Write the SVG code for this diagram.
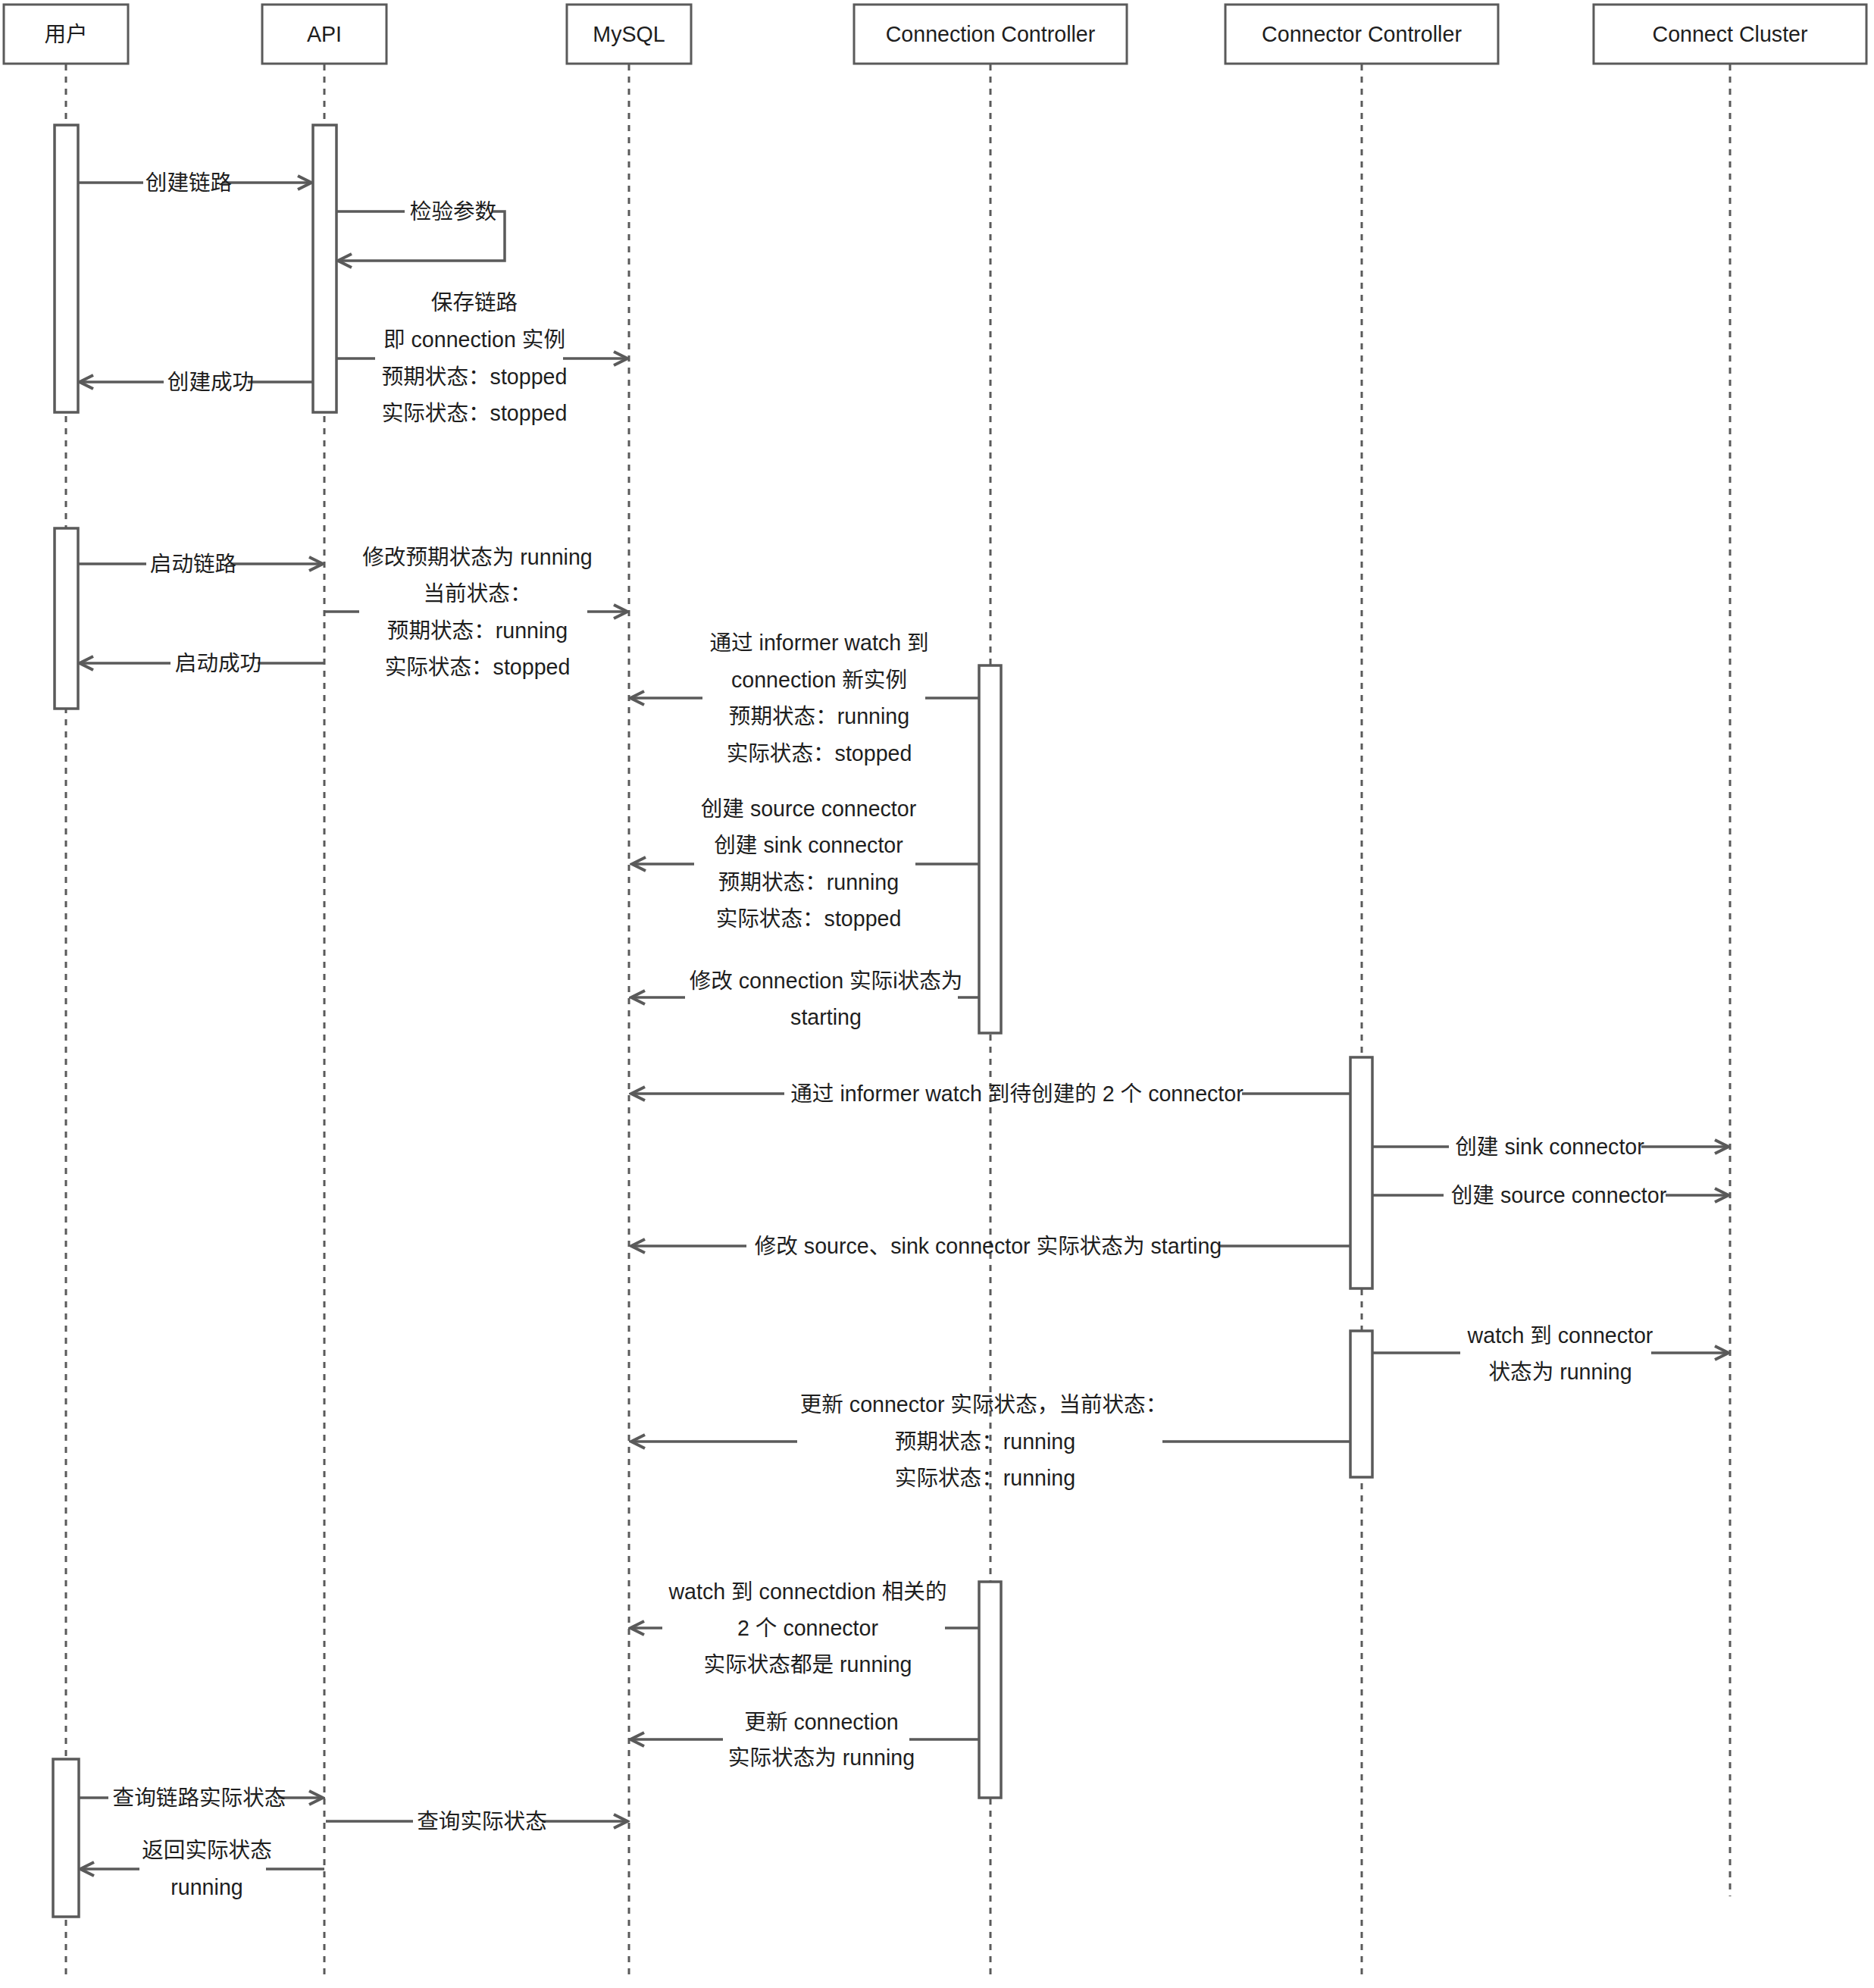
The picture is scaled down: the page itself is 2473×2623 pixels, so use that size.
<svg xmlns="http://www.w3.org/2000/svg" width="2473" height="2623" viewBox="0 0 2473 2623">
<style>
.box{fill:#fff;stroke:#5a5a5a;stroke-width:3}
.act{fill:#fff;stroke:#5a5a5a;stroke-width:3.5}
.life{stroke:#5a5a5a;stroke-width:3;stroke-dasharray:8 8;fill:none}
.msg{stroke:#5a5a5a;stroke-width:3.5;fill:none}
.arr{stroke:#5a5a5a;stroke-width:3.5;fill:none;marker-end:url(#ah)}
text{font-family:"Liberation Sans","Noto Sans CJK SC",sans-serif;font-size:28.6px;fill:#1e1e1e;text-anchor:middle;dominant-baseline:central}
</style>
<defs>
<marker id="ah" viewBox="0 0 24 24" markerUnits="userSpaceOnUse" markerWidth="24" markerHeight="24" refX="21" refY="12" orient="auto">
<path d="M3,3 L21,12 L3,21" fill="none" stroke="#5a5a5a" stroke-width="4"/>
</marker>
</defs>
<rect width="2473" height="2623" fill="#fff"/>

<g id="lifelines">
<line class="life" x1="87" y1="85" x2="87" y2="2613"/>
<line class="life" x1="428" y1="85" x2="428" y2="2613"/>
<line class="life" x1="830" y1="85" x2="830" y2="2613"/>
<line class="life" x1="1307" y1="85" x2="1307" y2="2613"/>
<line class="life" x1="1797" y1="85" x2="1797" y2="2613"/>
<line class="life" x1="2283" y1="85" x2="2283" y2="2502"/>
</g>

<g id="node-user"><rect class="box" x="5" y="6" width="164" height="78"/><text x="87" y="45">用户</text></g>
<g id="node-api"><rect class="box" x="346" y="6" width="164" height="78"/><text x="428" y="45">API</text></g>
<g id="node-mysql"><rect class="box" x="748" y="6" width="164" height="78"/><text x="830" y="45">MySQL</text></g>
<g id="node-connection-controller"><rect class="box" x="1127" y="6" width="360" height="78"/><text x="1307" y="45">Connection Controller</text></g>
<g id="node-connector-controller"><rect class="box" x="1617" y="6" width="360" height="78"/><text x="1797" y="45">Connector Controller</text></g>
<g id="node-connect-cluster"><rect class="box" x="2103" y="6" width="360" height="78"/><text x="2283" y="45">Connect Cluster</text></g>

<g id="activations">
<rect class="act" x="72" y="165" width="31" height="379"/>
<rect class="act" x="413" y="165" width="31" height="379"/>
<rect class="act" x="72" y="697" width="31" height="238"/>
<rect class="act" x="1292" y="878" width="29" height="485"/>
<rect class="act" x="1782" y="1395" width="29" height="305"/>
<rect class="act" x="1782" y="1756" width="29" height="193"/>
<rect class="act" x="1292" y="2087" width="29" height="285"/>
<rect class="act" x="70" y="2321" width="34" height="208"/>
</g>

<g id="connectors">
<path class="msg" d="M103,241 H189"/><path class="arr" d="M293,241 H411"/>
<path class="msg" d="M444,279 H534"/><path class="arr" d="M649,279 H666 V344 H446"/>
<path class="msg" d="M444,473 H495"/><path class="arr" d="M743,473 H828"/>
<path class="msg" d="M413,504 H327"/><path class="arr" d="M216,504 H105"/>
<path class="msg" d="M103,744 H193"/><path class="arr" d="M304,744 H426"/>
<path class="msg" d="M429,807 H474"/><path class="arr" d="M775,807 H828"/>
<path class="msg" d="M428,875 H340"/><path class="arr" d="M225,875 H105"/>
<path class="msg" d="M1292,921 H1221"/><path class="arr" d="M927,921 H832"/>
<path class="msg" d="M1292,1140 H1208"/><path class="arr" d="M916,1140 H834"/>
<path class="msg" d="M1292,1316 H1264"/><path class="arr" d="M904,1316 H833"/>
<path class="msg" d="M1782,1443 H1639"/><path class="arr" d="M1035,1443 H833"/>
<path class="msg" d="M1811,1513 H1912"/><path class="arr" d="M2166,1513 H2281"/>
<path class="msg" d="M1811,1577 H1905"/><path class="arr" d="M2198,1577 H2281"/>
<path class="msg" d="M1782,1644 H1610"/><path class="arr" d="M985,1644 H833"/>
<path class="msg" d="M1811,1785 H1927"/><path class="arr" d="M2179,1785 H2281"/>
<path class="msg" d="M1782,1902 H1534"/><path class="arr" d="M1052,1902 H833"/>
<path class="msg" d="M1292,2148 H1247"/><path class="arr" d="M874,2148 H832"/>
<path class="msg" d="M1292,2295 H1200"/><path class="arr" d="M954,2295 H832"/>
<path class="msg" d="M104,2372 H143"/><path class="arr" d="M367,2372 H426"/>
<path class="msg" d="M430,2403 H545"/><path class="arr" d="M715,2403 H828"/>
<path class="msg" d="M428,2466 H351"/><path class="arr" d="M184,2466 H106"/>
</g>

<g id="labels">
<text x="249" y="241">创建链路</text>
<text x="598" y="279">检验参数</text>
<text x="626" y="399">保存链路</text>
<text x="626" y="448">即 connection 实例</text>
<text x="626" y="497">预期状态：stopped</text>
<text x="626" y="545">实际状态：stopped</text>
<text x="278" y="504">创建成功</text>
<text x="255" y="744">启动链路</text>
<text x="630" y="735">修改预期状态为 running</text>
<text x="630" y="783">当前状态：</text>
<text x="630" y="832">预期状态：running</text>
<text x="630" y="880">实际状态：stopped</text>
<text x="288" y="875">启动成功</text>
<text x="1081" y="848">通过 informer watch 到</text>
<text x="1081" y="897">connection 新实例</text>
<text x="1081" y="945">预期状态：running</text>
<text x="1081" y="994">实际状态：stopped</text>
<text x="1067" y="1067">创建 source connector</text>
<text x="1067" y="1115">创建 sink connector</text>
<text x="1067" y="1164">预期状态：running</text>
<text x="1067" y="1212">实际状态：stopped</text>
<text x="1090" y="1294">修改 connection 实际i状态为</text>
<text x="1090" y="1342">starting</text>
<text x="1342" y="1443">通过 informer watch 到待创建的 2 个 connector</text>
<text x="2045" y="1513">创建 sink connector</text>
<text x="2057" y="1577">创建 source connector</text>
<text x="1304" y="1644">修改 source、sink connector 实际状态为 starting</text>
<text x="2059" y="1762">watch 到 connector</text>
<text x="2059" y="1810">状态为 running</text>
<text x="1298" y="1853">更新 connector 实际状态，当前状态：</text>
<text x="1300" y="1902">预期状态：running</text>
<text x="1300" y="1950">实际状态：running</text>
<text x="1066" y="2100">watch 到 connectdion 相关的</text>
<text x="1066" y="2148">2 个 connector</text>
<text x="1066" y="2196">实际状态都是 running</text>
<text x="1084" y="2272">更新 connection</text>
<text x="1084" y="2319">实际状态为 running</text>
<text x="263" y="2372">查询链路实际状态</text>
<text x="636" y="2403">查询实际状态</text>
<text x="273" y="2441">返回实际状态</text>
<text x="273" y="2490">running</text>
</g>
</svg>
